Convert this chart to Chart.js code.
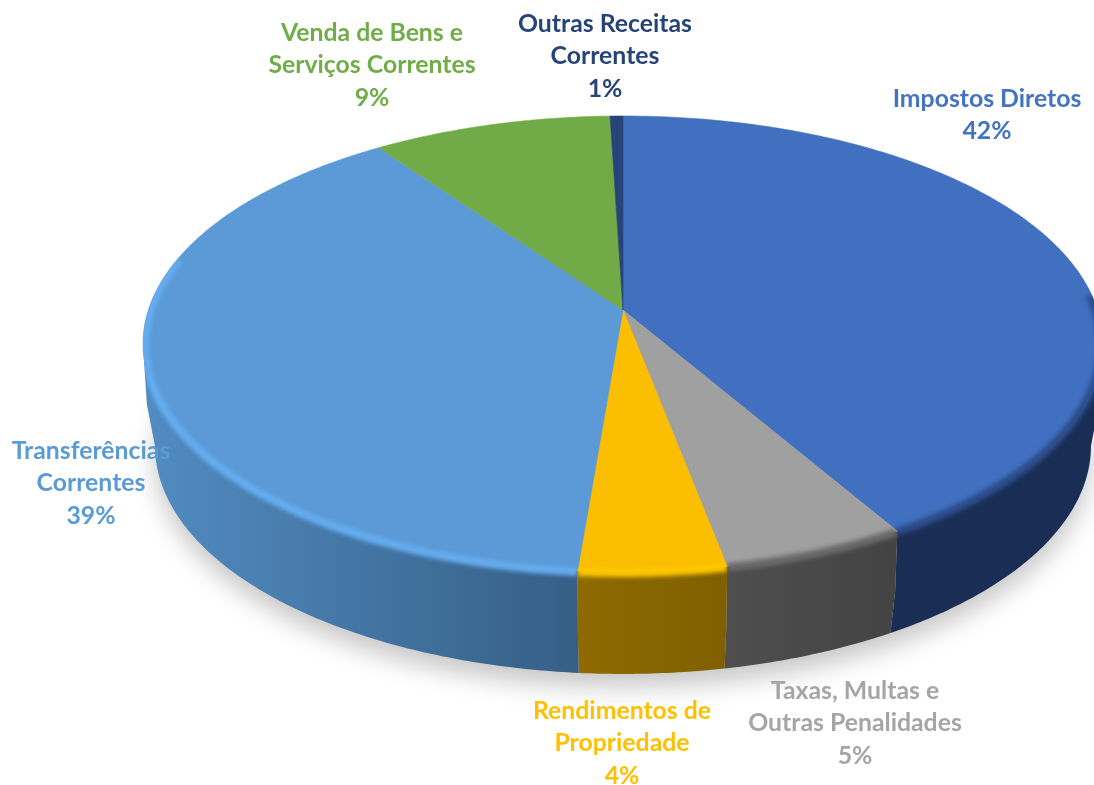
<!DOCTYPE html>
<html>
<head>
<meta charset="utf-8">
<title>Receitas Correntes</title>
<script src="https://cdn.jsdelivr.net/npm/chart.js@4/dist/chart.umd.min.js"></script>
<style>
  html, body { margin: 0; padding: 0; background: #fff; overflow: hidden; }
  canvas { display: block; }
</style>
</head>
<body>
<canvas id="myChart" width="1094" height="785"></canvas>
<script>
// clockwise from the top of the pie
var categories = [
    ["Impostos Diretos"],
    ["Taxas, Multas e", "Outras Penalidades"],
    ["Rendimentos de", "Propriedade"],
    ["Transferências", "Correntes"],
    ["Venda de Bens e", "Serviços Correntes"],
    ["Outras Receitas", "Correntes"]
];
var shares = [41.6, 5.4, 4.3, 38.9, 9.3, 0.5];

var topColors = ["#4070bf", "#a0a0a0", "#fbbe00", "#5b9ad6", "#70ab47", "#264478"];
var textColors = ["#4472c4", "#a5a5a5", "#ffc000", "#5b9bd5", "#70ad47", "#264478"];
var rimColors = ["#2c4c8a", "#6a6a6a", "#ffc800", "#65adf0", "#70ab47", "#264478"];
var wallLeft = ["#1a2e55", "#4e4e4e", "#8f6a00", "#528cc2", "#44692b", "#172a4a"];
var wallRight = ["#1a2e55", "#434343", "#7f5f00", "#355f85", "#44692b", "#172a4a"];

// label anchors, centre x and first line centre y
var labelX = [987, 855, 622, 91, 372, 605];
var labelY = [99, 691, 711, 451, 33, 24];
var lineStep = 32.5;

// perspective of the disc: the pie centre is not the ellipse centre
var apexX = 623, apexY = 310;
var discA = 474.6, discB = 222.9, discK = 0.149;
// rings going down the side wall: [drop, shrink]
var rings = [[0, 1], [60, 0.992], [102, 0.975]];
var topRing = rings[0], lowRing = rings[2];
// the wall only shows between the two widest points of the disc
var wallFrom = 1.72, wallTo = 4.56;

function project(angle, ring) {
    var u = Math.sin(angle);
    var v = -Math.cos(angle);
    var w = 1 - discK * v;
    return [apexX + discA * u / w * ring[1], apexY + discB * v / w + ring[0]];
}

function arcPoints(from, to, ring) {
    var pts = [];
    var n = Math.max(2, Math.ceil((to - from) / 0.01));
    for (var i = 0; i <= n; i++) {
        pts.push(project(from + (to - from) * i / n, ring));
    }
    return pts;
}

function tracePoints(ctx, pts, goOn) {
    pts.forEach(function (p, i) {
        if (i === 0 && !goOn) ctx.moveTo(p[0], p[1]);
        else ctx.lineTo(p[0], p[1]);
    });
}

function traceWall(ctx, s) {
    var from = Math.max(s[0], wallFrom);
    var to = Math.min(s[1], wallTo);
    if (to <= from) return false;
    for (var r = 0; r < rings.length - 1; r++) {
        tracePoints(ctx, arcPoints(from, to, rings[r]));
        tracePoints(ctx, arcPoints(from, to, rings[r + 1]).reverse(), true);
        ctx.closePath();
    }
    return true;
}

function traceTop(ctx, s) {
    ctx.moveTo(apexX, apexY);
    tracePoints(ctx, arcPoints(s[0], s[1], topRing), true);
    ctx.closePath();
}

var pie3d = {
    id: "pie3d",
    beforeDatasetDraw: function (chart, args) {
        var ctx = chart.ctx;
        var arcs = chart.getDatasetMeta(args.index).data;
        // library angles start at -PI/2, the projection starts at the top
        var spans = arcs.map(function (el) {
            return [el.startAngle + Math.PI / 2, el.endAngle + Math.PI / 2];
        });

        // soft shadow on the floor
        ctx.save();
        ctx.filter = "blur(12px)";
        ctx.fillStyle = "rgba(0,0,0,0.22)";
        ctx.beginPath();
        tracePoints(ctx, arcPoints(0, Math.PI * 2, lowRing).map(function (p) {
            return [p[0], p[1] + 13];
        }));
        ctx.fill();
        ctx.restore();

        // side wall
        spans.forEach(function (s, i) {
            var xs = arcPoints(Math.max(s[0], wallFrom), Math.min(s[1], wallTo), topRing).map(function (p) { return p[0]; });
            var g = ctx.createLinearGradient(Math.min.apply(null, xs), 0, Math.max.apply(null, xs), 0);
            g.addColorStop(0, wallLeft[i]);
            g.addColorStop(1, wallRight[i]);
            ctx.fillStyle = g;
            ctx.beginPath();
            if (traceWall(ctx, s)) ctx.fill();
        });

        // top of the pie
        spans.forEach(function (s, i) {
            ctx.fillStyle = topColors[i];
            ctx.strokeStyle = topColors[i];
            ctx.lineWidth = 0.6;
            ctx.beginPath();
            traceTop(ctx, s);
            ctx.fill();
            ctx.stroke();
        });

        // bevel along the front edge
        spans.forEach(function (s, i) {
            var from = Math.max(s[0], 1.5);
            var to = Math.min(s[1], 4.95);
            if (to <= from) return;
            ctx.save();
            ctx.beginPath();
            traceTop(ctx, s);
            traceWall(ctx, s);
            ctx.clip();
            ctx.filter = "blur(2px)";
            ctx.strokeStyle = rimColors[i];
            ctx.lineWidth = 8;
            ctx.beginPath();
            tracePoints(ctx, arcPoints(from, to, [1, 0.996]));
            ctx.stroke();
            ctx.restore();
        });
        return false;
    },
    afterDraw: function (chart) {
        var ctx = chart.ctx;
        var values = chart.data.datasets[0].data;
        ctx.save();
        ctx.font = "bold 24.8px Lato";
        ctx.textAlign = "center";
        ctx.textBaseline = "middle";
        categories.forEach(function (lines, i) {
            ctx.fillStyle = textColors[i];
            lines.concat(Math.round(values[i]) + "%").forEach(function (line, j) {
                ctx.fillText(line, labelX[i], labelY[i] + j * lineStep);
            });
        });
        ctx.restore();
    }
};

new Chart("myChart", {
    type: "pie",
    data: {
        labels: categories,
        datasets: [{
            data: shares,
            backgroundColor: topColors,
            borderWidth: 0
        }]
    },
    options: {
        responsive: false,
        animation: false,
        plugins: {
            legend: { display: false },
            tooltip: { enabled: false }
        }
    },
    plugins: [pie3d]
});
</script>
</body>
</html>
